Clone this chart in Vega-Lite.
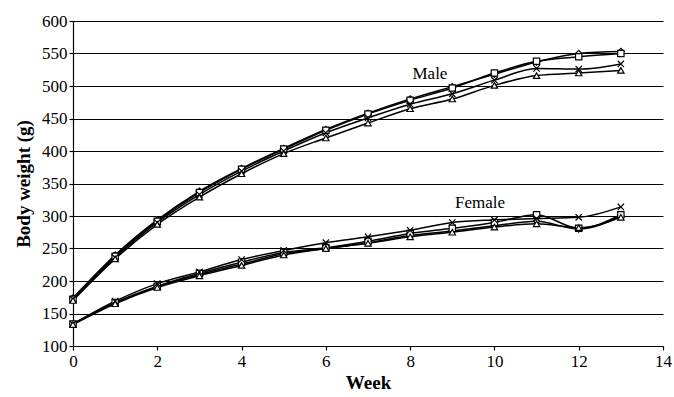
{
  "$schema": "https://vega.github.io/schema/vega-lite/v6.json",
  "width": 590,
  "height": 325,
  "autosize": "none",
  "padding": {"left": 73, "top": 21, "right": 11, "bottom": 51},
  "background": "white",
  "config": {
    "view": {"stroke": null},
    "font": "Liberation Serif",
    "axis": {
      "labelFont": "Liberation Serif",
      "titleFont": "Liberation Serif",
      "labelColor": "black",
      "titleColor": "black",
      "domainColor": "black",
      "tickColor": "black",
      "gridColor": "black",
      "gridOpacity": 1,
      "labelFontSize": 17,
      "titleFontSize": 19,
      "titleFontWeight": "bold",
      "tickSize": 4,
      "domainWidth": 1.2,
      "tickWidth": 1.2,
      "labelOverlap": false,
      "labelFlush": false
    }
  },
  "datasets": {
    "series": [
      {"series": "M1", "marker": "diamond", "week": 0, "weight": 174}, {"series": "M1", "marker": "diamond", "week": 1, "weight": 240}, {"series": "M1", "marker": "diamond", "week": 2, "weight": 294}, {"series": "M1", "marker": "diamond", "week": 3, "weight": 338}, {"series": "M1", "marker": "diamond", "week": 4, "weight": 373}, {"series": "M1", "marker": "diamond", "week": 5, "weight": 404}, {"series": "M1", "marker": "diamond", "week": 6, "weight": 433}, {"series": "M1", "marker": "diamond", "week": 7, "weight": 458}, {"series": "M1", "marker": "diamond", "week": 8, "weight": 480}, {"series": "M1", "marker": "diamond", "week": 9, "weight": 499}, {"series": "M1", "marker": "diamond", "week": 10, "weight": 518}, {"series": "M1", "marker": "diamond", "week": 11, "weight": 537}, {"series": "M1", "marker": "diamond", "week": 12, "weight": 550}, {"series": "M1", "marker": "diamond", "week": 13, "weight": 553},
      {"series": "M2", "marker": "square", "week": 0, "weight": 172}, {"series": "M2", "marker": "square", "week": 1, "weight": 238}, {"series": "M2", "marker": "square", "week": 2, "weight": 292}, {"series": "M2", "marker": "square", "week": 3, "weight": 336}, {"series": "M2", "marker": "square", "week": 4, "weight": 372}, {"series": "M2", "marker": "square", "week": 5, "weight": 403}, {"series": "M2", "marker": "square", "week": 6, "weight": 432}, {"series": "M2", "marker": "square", "week": 7, "weight": 457}, {"series": "M2", "marker": "square", "week": 8, "weight": 478}, {"series": "M2", "marker": "square", "week": 9, "weight": 497}, {"series": "M2", "marker": "square", "week": 10, "weight": 520}, {"series": "M2", "marker": "square", "week": 11, "weight": 538}, {"series": "M2", "marker": "square", "week": 12, "weight": 545}, {"series": "M2", "marker": "square", "week": 13, "weight": 550},
      {"series": "M3", "marker": "x", "week": 0, "weight": 172}, {"series": "M3", "marker": "x", "week": 1, "weight": 236}, {"series": "M3", "marker": "x", "week": 2, "weight": 290}, {"series": "M3", "marker": "x", "week": 3, "weight": 333}, {"series": "M3", "marker": "x", "week": 4, "weight": 369}, {"series": "M3", "marker": "x", "week": 5, "weight": 400}, {"series": "M3", "marker": "x", "week": 6, "weight": 428}, {"series": "M3", "marker": "x", "week": 7, "weight": 451}, {"series": "M3", "marker": "x", "week": 8, "weight": 472}, {"series": "M3", "marker": "x", "week": 9, "weight": 488}, {"series": "M3", "marker": "x", "week": 10, "weight": 509}, {"series": "M3", "marker": "x", "week": 11, "weight": 527}, {"series": "M3", "marker": "x", "week": 12, "weight": 526}, {"series": "M3", "marker": "x", "week": 13, "weight": 534},
      {"series": "M4", "marker": "triangle", "week": 0, "weight": 170}, {"series": "M4", "marker": "triangle", "week": 1, "weight": 234}, {"series": "M4", "marker": "triangle", "week": 2, "weight": 287}, {"series": "M4", "marker": "triangle", "week": 3, "weight": 329}, {"series": "M4", "marker": "triangle", "week": 4, "weight": 365}, {"series": "M4", "marker": "triangle", "week": 5, "weight": 396}, {"series": "M4", "marker": "triangle", "week": 6, "weight": 420}, {"series": "M4", "marker": "triangle", "week": 7, "weight": 443}, {"series": "M4", "marker": "triangle", "week": 8, "weight": 465}, {"series": "M4", "marker": "triangle", "week": 9, "weight": 480}, {"series": "M4", "marker": "triangle", "week": 10, "weight": 501}, {"series": "M4", "marker": "triangle", "week": 11, "weight": 516}, {"series": "M4", "marker": "triangle", "week": 12, "weight": 520}, {"series": "M4", "marker": "triangle", "week": 13, "weight": 524},
      {"series": "F1", "marker": "diamond", "week": 0, "weight": 134}, {"series": "F1", "marker": "diamond", "week": 1, "weight": 166}, {"series": "F1", "marker": "diamond", "week": 2, "weight": 191}, {"series": "F1", "marker": "diamond", "week": 3, "weight": 210}, {"series": "F1", "marker": "diamond", "week": 4, "weight": 226}, {"series": "F1", "marker": "diamond", "week": 5, "weight": 242}, {"series": "F1", "marker": "diamond", "week": 6, "weight": 250}, {"series": "F1", "marker": "diamond", "week": 7, "weight": 259}, {"series": "F1", "marker": "diamond", "week": 8, "weight": 270}, {"series": "F1", "marker": "diamond", "week": 9, "weight": 277}, {"series": "F1", "marker": "diamond", "week": 10, "weight": 285}, {"series": "F1", "marker": "diamond", "week": 11, "weight": 292}, {"series": "F1", "marker": "diamond", "week": 12, "weight": 280}, {"series": "F1", "marker": "diamond", "week": 13, "weight": 300},
      {"series": "F2", "marker": "square", "week": 0, "weight": 134}, {"series": "F2", "marker": "square", "week": 1, "weight": 167}, {"series": "F2", "marker": "square", "week": 2, "weight": 192}, {"series": "F2", "marker": "square", "week": 3, "weight": 212}, {"series": "F2", "marker": "square", "week": 4, "weight": 229}, {"series": "F2", "marker": "square", "week": 5, "weight": 244}, {"series": "F2", "marker": "square", "week": 6, "weight": 251}, {"series": "F2", "marker": "square", "week": 7, "weight": 261}, {"series": "F2", "marker": "square", "week": 8, "weight": 273}, {"series": "F2", "marker": "square", "week": 9, "weight": 281}, {"series": "F2", "marker": "square", "week": 10, "weight": 290}, {"series": "F2", "marker": "square", "week": 11, "weight": 302}, {"series": "F2", "marker": "square", "week": 12, "weight": 281}, {"series": "F2", "marker": "square", "week": 13, "weight": 302},
      {"series": "F3", "marker": "x", "week": 0, "weight": 134}, {"series": "F3", "marker": "x", "week": 1, "weight": 169}, {"series": "F3", "marker": "x", "week": 2, "weight": 196}, {"series": "F3", "marker": "x", "week": 3, "weight": 214}, {"series": "F3", "marker": "x", "week": 4, "weight": 233}, {"series": "F3", "marker": "x", "week": 5, "weight": 247}, {"series": "F3", "marker": "x", "week": 6, "weight": 259}, {"series": "F3", "marker": "x", "week": 7, "weight": 268}, {"series": "F3", "marker": "x", "week": 8, "weight": 278}, {"series": "F3", "marker": "x", "week": 9, "weight": 290}, {"series": "F3", "marker": "x", "week": 10, "weight": 294}, {"series": "F3", "marker": "x", "week": 11, "weight": 296}, {"series": "F3", "marker": "x", "week": 12, "weight": 298}, {"series": "F3", "marker": "x", "week": 13, "weight": 314},
      {"series": "F4", "marker": "triangle", "week": 0, "weight": 133}, {"series": "F4", "marker": "triangle", "week": 1, "weight": 165}, {"series": "F4", "marker": "triangle", "week": 2, "weight": 190}, {"series": "F4", "marker": "triangle", "week": 3, "weight": 208}, {"series": "F4", "marker": "triangle", "week": 4, "weight": 224}, {"series": "F4", "marker": "triangle", "week": 5, "weight": 240}, {"series": "F4", "marker": "triangle", "week": 6, "weight": 250}, {"series": "F4", "marker": "triangle", "week": 7, "weight": 258}, {"series": "F4", "marker": "triangle", "week": 8, "weight": 268}, {"series": "F4", "marker": "triangle", "week": 9, "weight": 275}, {"series": "F4", "marker": "triangle", "week": 10, "weight": 283}, {"series": "F4", "marker": "triangle", "week": 11, "weight": 288}, {"series": "F4", "marker": "triangle", "week": 12, "weight": 282}, {"series": "F4", "marker": "triangle", "week": 13, "weight": 298}
    ],
    "labels": [
      {"week": 8.47, "weight": 519, "label": "Male"},
      {"week": 9.66, "weight": 320, "label": "Female"}
    ]
  },
  "encoding": {
    "x": {"field": "week", "type": "quantitative", "scale": {"domain": [0, 14], "nice": false},
          "axis": {"values": [0, 2, 4, 6, 8, 10, 12, 14], "grid": false, "title": "Week", "titlePadding": 4, "labelPadding": 3, "labelFont": "Liberation Serif", "labelOverlap": false, "labelFlush": false}},
    "y": {"field": "weight", "type": "quantitative", "scale": {"domain": [100, 600], "nice": false, "zero": false},
          "axis": {"values": [100, 150, 200, 250, 300, 350, 400, 450, 500, 550, 600], "grid": true, "gridWidth": 1.2, "title": "Body weight (g)", "titlePadding": 8, "labelPadding": 2, "labelFont": "Liberation Serif", "labelOverlap": false}}
  },
  "layer": [
    {
      "data": {"name": "series"},
      "mark": {"type": "line", "color": "black", "strokeWidth": 1.5, "interpolate": "monotone"},
      "encoding": {
        "detail": {"field": "series"}
      }
    },
    {
      "data": {"name": "series"},
      "mark": {"type": "point", "filled": false, "color": "black", "strokeWidth": 1.2, "size": 40, "fill": "white", "fillOpacity": 1},
      "encoding": {
        "shape": {"field": "marker", "type": "nominal", "legend": null,
                  "scale": {"domain": ["diamond", "square", "x", "triangle"],
                            "range": ["diamond", "square", "M-1,-1L1,1M-1,1L1,-1", "triangle-up"]}}
      }
    },
    {
      "data": {"name": "labels"},
      "mark": {"type": "text", "font": "Liberation Serif", "fontSize": 17, "color": "black", "align": "center", "baseline": "middle"},
      "encoding": {
        "text": {"field": "label"}
      }
    }
  ]
}
